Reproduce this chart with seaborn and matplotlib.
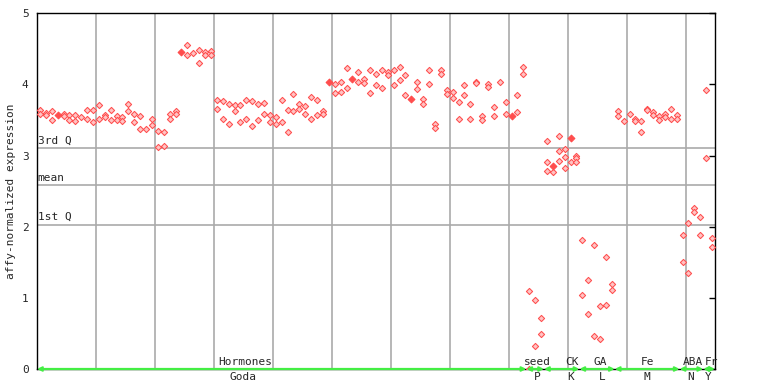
import matplotlib
matplotlib.use('Agg')
import matplotlib.pyplot as plt
import numpy as np
import pandas as pd
import seaborn as sns

nan = np.nan

# expression values per sample (up to three replicates)
rep1 = [3.64, 3.60, 3.62, 3.57, 3.59, 3.57, 3.57, 3.54, 3.64, 3.64,
        3.71, 3.57, 3.64, 3.56, 3.54, 3.72, 3.59, 3.56, 3.38, 3.52,
        3.35, 3.33, 3.58, 3.62, 4.46, 4.55, 4.44, 4.49, 4.46, 4.47,
        3.78, 3.77, 3.72, 3.71, 3.71, 3.78, 3.77, 3.72, 3.74, 3.57,
        3.54, 3.78, 3.64, 3.87, 3.72, 3.70, 3.82, 3.78, 3.63, 4.04,
        4.00, 4.04, 4.23, 4.08, 4.17, 4.08, 4.21, 4.14, 4.21, 4.18,
        4.20, 4.24, 4.13, 3.80, 4.04, 3.79, 4.21, 3.45, 4.20, 3.92,
        3.89, 3.75, 3.99, 3.73, 4.04, 3.56, 4.00, 3.68, 4.03, 3.75,
        3.55, 3.85, 4.24, 1.09, 0.97, 0.71, 3.21, 2.85, 3.27, 3.09,
        3.25, 3.00, 1.82, 1.25, 1.74, 0.88, 1.57, 1.19, 3.62, 3.48,
        3.58, 3.51, 3.48, 3.66, 3.61, 3.55, 3.58, 3.65, 3.57, 1.88,
        2.05, 2.27, 2.13, 3.92, 1.84]
rep2 = [3.58, 3.57, 3.50, nan, 3.56, 3.50, 3.49, nan, 3.52, 3.47,
        3.52, 3.54, 3.50, 3.50, 3.49, 3.63, 3.47, 3.38, nan, 3.43,
        3.12, 3.13, 3.51, 3.58, nan, 4.42, nan, 4.30, 4.42, 4.41,
        3.66, 3.51, 3.45, 3.63, 3.47, 3.52, 3.41, 3.50, 3.59, 3.47,
        3.45, 3.47, 3.33, 3.63, 3.66, 3.59, 3.51, 3.57, 3.58, nan,
        3.88, 3.89, 3.95, nan, 4.03, 4.02, 3.88, 3.99, 3.95, 4.13,
        3.99, 4.06, 3.85, nan, 3.93, 3.73, 4.00, 3.39, 4.14, 3.86,
        3.81, 3.52, 3.85, 3.52, 4.02, 3.50, 3.96, 3.55, nan, 3.58,
        nan, 3.61, 4.14, 0.00, 0.32, 0.49, 2.91, 2.77, 3.06, 2.98,
        2.91, 2.96, 1.04, 0.77, 0.46, 0.42, 0.90, 1.11, 3.55, nan,
        nan, 3.48, 3.33, 3.64, 3.57, 3.50, 3.54, 3.52, 3.52, 1.51,
        1.35, 2.20, 1.89, 2.96, 1.72]
rep3 = {86: 2.79, 88: 2.93, 89: 2.82, 91: 2.91}
solid = [3, 24, 49, 53, 63, 80, 87, 90]

q_values = [3.10, 2.58, 2.03]
q_labels = ['3rd Q', 'mean', '1st Q']

groups = ['Hormones', 'seed', 'CK', 'GA', 'Fe', 'ABA', 'Fr']
studies = ['Goda', 'P', 'K', 'L', 'M', 'N', 'Y']
g_start = [0, 83, 86, 92, 98, 109, 113]
g_end = [83, 86, 92, 98, 109, 113, 115]
g_label_x = [35.3, 84.8, 90.7, 95.6, 103.6, 111.2, 114.4]
s_label_x = [34.9, 84.9, 90.5, 95.9, 103.4, 110.8, 113.9]

rows = []
for i, v in enumerate(rep1):
    rows.append((i + 0.5, v, i in solid))
for i, v in enumerate(rep2):
    if not np.isnan(v):
        rows.append((i + 0.5, v, False))
for i, v in rep3.items():
    rows.append((i + 0.5, v, False))
df = pd.DataFrame(rows, columns=['x', 'value', 'solid'])

sns.set_style('white')
plt.rcParams['font.family'] = ['DejaVu Sans Mono']

fig = plt.figure(figsize=(7.68, 3.84), dpi=100)
ax = fig.add_axes([37 / 768, 15 / 384, 678 / 768, 355.7 / 384])

for k in range(10, 115, 10):
    ax.axvline(k, color='#aaaaaa', lw=1.2, zorder=1)
for q, lab in zip(q_values, q_labels):
    ax.axhline(q, color='#aaaaaa', lw=1.2, zorder=1)
    ax.text(0.1, q + 0.04, lab, fontsize=8, ha='left', va='bottom')

sns.scatterplot(data=df[~df['solid']], x='x', y='value', marker='D', s=10,
                color='#ffc4c4', edgecolor='#ff4d4d', linewidth=0.75,
                ax=ax, zorder=3, legend=False)
sns.scatterplot(data=df[df['solid']], x='x', y='value', marker='D', s=12,
                color='#ff4d4d', edgecolor='#ff4d4d', linewidth=0.75,
                ax=ax, zorder=4, legend=False)

for a, b in zip(g_start, g_end):
    ax.annotate('', xy=(b, 0), xytext=(a, 0), annotation_clip=False,
                arrowprops=dict(arrowstyle='<->', color='#44ee44', lw=1.6,
                                shrinkA=0, shrinkB=0, mutation_scale=6),
                zorder=6)
for x, lab in zip(g_label_x, groups):
    ax.text(x, 0.03, lab, fontsize=8, ha='center', va='bottom', clip_on=False)
for x, lab in zip(s_label_x, studies):
    ax.text(x, -0.04, lab, fontsize=8, ha='center', va='top', clip_on=False)

ax.set_xlim(0, 115)
ax.set_ylim(0, 5)
ax.set_xticks([])
ax.set_yticks(range(6))
ax.tick_params(axis='y', direction='in', length=4.5, width=1, right=True,
               labelright=False, labelsize=8, pad=6, color='black')
ax.set_xlabel('')
ax.set_ylabel('affy-normalized expression', fontsize=8, labelpad=4)
for sp in ax.spines.values():
    sp.set_color('black')
    sp.set_linewidth(1)
    sp.set_visible(True)

fig.savefig('out.png', dpi=100)
